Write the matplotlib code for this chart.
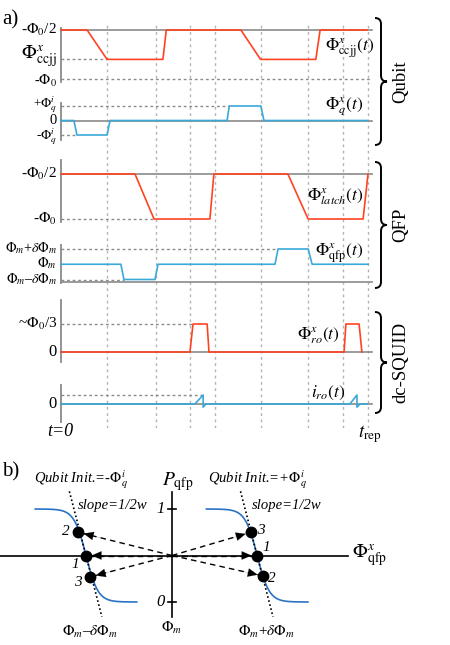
# Timing diagram (a) and QFP transfer curve (b)
import numpy as np
import matplotlib.pyplot as plt
from matplotlib.path import Path
import matplotlib.patches as mpatches

plt.rcParams['font.family'] = 'Liberation Serif'
plt.rcParams['mathtext.fontset'] = 'stix'

RED = '#ff4322'
BLUE = '#3aa8d8'
DBLUE = '#2b72c4'
GRAY = '#8a8a8a'
GRID = '#b4b4b4'

# --- data: time axis in units where t_rep = 100 ---
grid_t = [15, 31, 42, 50.2, 65, 80.5, 92, 100]

# Qubit: CCJJ flux (Phi0) and qubit flux (units of Phi_q^i)
ccjj_t = [0, 8.5, 15, 33.2, 34.3, 58.6, 65, 83, 84.4, 99.7]
ccjj_v = [-0.5, -0.5, -0.8, -0.8, -0.5, -0.5, -0.8, -0.8, -0.5, -0.5]
q_t = [0, 4.2, 5.2, 15, 16, 54.1, 54.8, 65.1, 66.1, 99.7]
q_v = [0, 0, -1, -1, 0, 0, 1, 1, 0, 0]

# QFP: latch flux (Phi0) and qfp flux (units of dPhi_m around Phi_m)
latch_t = [0, 24.1, 30.3, 48.5, 49.8, 73.9, 80.5, 98.4, 100]
latch_v = [-0.5, -0.5, -1, -1, -0.5, -0.5, -1, -1, -0.5]
qfp_t = [0, 19.5, 20.5, 30.6, 31.6, 69.7, 70.7, 80.5, 81.8, 100]
qfp_v = [0, 0, -1, -1, 0, 0, 1, 1, 0, 0]

# dc-SQUID: readout flux (Phi0) and readout current (arb.)
ro_t = [0, 42, 43, 47.6, 48.2, 92.2, 92.8, 97.1, 98]
ro_v = [0, 0, 1/3, 1/3, 0, 0, 1/3, 1/3, 0]
iro_t = [0, 43.6, 46.3, 46.3, 47.2, 94.1, 96.4, 96.4, 97.4, 99.7]
iro_v = [0, 0, 1, -0.35, 0, 0, 1, -0.35, 0, 0]

# panel b: QFP transfer curves and operating points
w = 0.14
curve_c = [-1.0, 0.99]
left_x = [-1.09, -1.0, -0.95]
left_p = [0.75, 0.5, 0.27]
left_n = ['2', '1', '3']
right_x = [0.92, 0.99, 1.06]
right_p = [0.75, 0.5, 0.28]
right_n = ['3', '1', '2']

W, H = 450, 645
fig = plt.figure(figsize=(4.5, 6.45), dpi=100)


def px_axes(x0, x1, y0, y1):
    ax = fig.add_axes([x0 / W, 1 - y1 / H, (x1 - x0) / W, (y1 - y0) / H])
    ax.set_axis_off()
    return ax


TMAX = 101.3


def trace_axes(top, bot, va, ya, vb, yb):
    ax = px_axes(61, 372, top, bot)
    k = (vb - va) / (yb - ya)
    ax.set_xlim(0, TMAX)
    ax.set_ylim(va + (bot - ya) * k, va + (top - ya) * k)
    ax.axvline(0, color=GRAY, lw=1.3, clip_on=False)
    return ax


def ref(ax, v):
    ax.plot([0, TMAX], [v, v], color=GRAY, lw=1.2, clip_on=False, zorder=1)


def dots(ax, v, t_end):
    ax.plot([0, t_end], [v, v], color=GRAY, lw=1, ls=(0, (2, 2)), clip_on=False, zorder=1)


def left(ax, v, s, size=11):
    ax.text(-1.3, v, s, ha='right', va='center', fontsize=size)


def right(ax, t, v, s):
    ax.text(t, v, s, ha='right', va='center', fontsize=12.5)


# vertical dotted gridlines
g = px_axes(61, 372, 23, 428)
g.set_xlim(0, TMAX)
g.set_ylim(0, 1)
for t in grid_t:
    g.axvline(t, color=GRID, lw=1, ls=(0, (2, 2.5)))

# Qubit traces
a1 = trace_axes(28, 82, -0.5, 30, -1, 79)
ref(a1, -0.5)
dots(a1, -0.8, 15)
dots(a1, -1, TMAX)
a1.plot(ccjj_t, ccjj_v, color=RED, lw=1.2, clip_on=False)
left(a1, -0.5, r'-$\Phi_{\mathit{0}}$/2')
left(a1, -0.78, r'$\Phi^x_{\rm ccjj}$', 14)
left(a1, -1.02, r'-$\Phi_{\mathit{0}}$', 10.5)
right(a1, 102.3, -0.68, r'$\Phi^x_{\rm ccjj}(t)$')

a2 = trace_axes(103, 140, 1, 106, -1, 135)
ref(a2, 0)
dots(a2, 1, 54.8)
dots(a2, -1, 5.2)
a2.plot(q_t, q_v, color=BLUE, lw=1.2, clip_on=False)
left(a2, 1.12, r'+$\Phi^i_q$', 9.5)
left(a2, 0, '0', 10.5)
left(a2, -1.12, r'-$\Phi^i_q$', 9.5)
right(a2, 98.4, 0.95, r'$\Phi^x_q(t)$')

# QFP traces
a3 = trace_axes(160, 222, -0.5, 174, -1, 219)
ref(a3, -0.5)
dots(a3, -1, 30.3)
a3.plot(latch_t, latch_v, color=RED, lw=1.2, clip_on=False)
left(a3, -0.5, r'-$\Phi_{\mathit{0}}$/2')
left(a3, -1, r'-$\Phi_{\mathit{0}}$')
right(a3, 98.4, -0.756, r'$\Phi^x_{latch}(t)$')

a4 = trace_axes(245, 283, 1, 249, -1, 279.5)
ref(a4, -1.15)
dots(a4, 1, 70.7)
dots(a4, -1, 20.5)
a4.plot(qfp_t, qfp_v, color=BLUE, lw=1.2, clip_on=False)
left(a4, 1.05, r'$\Phi_m$+$\delta\Phi_m$', 10)
left(a4, 0.05, r'$\Phi_m$', 10)
left(a4, -0.95, r'$\Phi_m$–$\delta\Phi_m$', 10)
right(a4, 98.4, 0.74, r'$\Phi^x_{\rm qfp}(t)$')

# dc-SQUID traces
a5 = trace_axes(300, 362, 0, 352, 1/3, 324)
ref(a5, 0)
dots(a5, 1/3, 43)
a5.plot(ro_t, ro_v, color=RED, lw=1.2, clip_on=False)
left(a5, 1/3, r'~$\Phi_{\mathit{0}}$/3')
left(a5, 0, '0', 12)
right(a5, 90.9, 0.2, r'$\Phi^x_{ro}(t)$')

a6 = trace_axes(385, 422, 0, 404, 1, 395)
ref(a6, 0)
dots(a6, 1, 46.3)
a6.plot(iro_t, iro_v, color=BLUE, lw=1.2, clip_on=False)
left(a6, 0, '0', 12)
right(a6, 92.5, 1.2, r'$i_{ro}(t)$')

# overlay for braces and panel annotations (pixel layout)
ov = px_axes(0, W, 0, H)
ov.set_xlim(0, W)
ov.set_ylim(H, 0)


def brace(x, y0, y1, bw=12):
    ym = (y0 + y1) / 2
    h = bw / 2
    verts = [(x, y0), (x + h, y0), (x + h, y0 + h), (x + h, ym - h), (x + h, ym), (x + bw, ym),
             (x + h, ym), (x + h, ym + h), (x + h, y1 - h), (x + h, y1), (x, y1)]
    codes = [Path.MOVETO, Path.CURVE3, Path.CURVE3, Path.LINETO, Path.CURVE3, Path.CURVE3,
             Path.CURVE3, Path.CURVE3, Path.LINETO, Path.CURVE3, Path.CURVE3]
    ov.add_patch(mpatches.PathPatch(Path(verts, codes), fill=False, lw=1.4, color='k'))


for (y0, y1, name) in [(18, 145, 'Qubit'), (162, 288, 'QFP'), (312, 413, 'dc-SQUID')]:
    brace(375, y0, y1)
    ov.text(401, (y0 + y1) / 2, name, rotation=90, ha='center', va='center', fontsize=13.5)

ov.text(2, 20, 'a)', fontsize=15, va='center')
ov.text(2, 472, 'b)', fontsize=15, va='center')
ov.text(60, 432, 't=0', fontsize=13, style='italic', ha='center', va='center')
ov.text(370, 434, r'$t_{\rm rep}$', fontsize=13.5, ha='center', va='center')

# panel b
b = px_axes(0, W, 455, H)
b.set_xlim(-2.0, (450 - 172) / 86)
b.set_ylim((602 - 645) / 93, (602 - 455) / 93)

b.plot([-2.0, 2.05], [0.5, 0.5], color='k', lw=1.2)
b.plot([0, 0], [-0.16, 1.18], color='k', lw=1.2)
for p in [0, 1]:
    b.plot([-0.05, 0.05], [p, p], color='k', lw=1.2)
    b.text(-0.08, p, str(p), ha='right', va='center', fontsize=12, style='italic')

for c in curve_c:
    x = np.linspace(c - 0.59, c + 0.59, 200)
    b.plot(x, 0.5 - 0.5 * np.tanh((x - c) / w), color=DBLUE, lw=1.2)
    yy = np.array([1.19, -0.16])
    b.plot(c - (yy - 0.5) * 2 * w, yy, color='k', lw=1.2, ls=(0, (1, 1.5)))

for xs, ps in [(left_x, left_p), (right_x, right_p)]:
    for x, p in zip(xs, ps):
        b.plot([0, x], [0.5, p], color='k', lw=1, ls=(0, (4, 3)))
        b.annotate('', xy=(x, p), xytext=(0.75 * x, 0.5 + 0.75 * (p - 0.5)),
                   arrowprops=dict(arrowstyle='-|>,head_length=0.7,head_width=0.3',
                                   color='k', lw=0.1, shrinkA=0, shrinkB=4))
    b.plot(xs, ps, 'o', color='k', ms=7.5, zorder=5)

for (x, p, s) in [(-1.23, 0.755, left_n[0]), (-1.13, 0.40, left_n[1]), (-1.09, 0.215, left_n[2]),
                  (1.03, 0.765, right_n[0]), (1.10, 0.59, right_n[1]), (1.165, 0.258, right_n[2])]:
    b.text(x, p, s, ha='center', va='center', fontsize=11, style='italic')

b.text(-1.6, (602 - 480) / 93, r'Qubit Init.=-$\Phi^i_q$', fontsize=10.5, style='italic', va='center')
b.text(-1.09, (602 - 505) / 93, 'slope=1/2w', fontsize=10.5, style='italic', va='center')
b.text(0.42, (602 - 480) / 93, r'Qubit Init.=+$\Phi^i_q$', fontsize=10.5, style='italic', va='center')
b.text(0.93, (602 - 505) / 93, 'slope=1/2w', fontsize=10.5, style='italic', va='center')
b.text(0.07, (602 - 482) / 93, r'$P_{\rm qfp}$', fontsize=14, ha='center', va='center')
b.text(2.09, 0.5, r'$\Phi^x_{\rm qfp}$', fontsize=14, ha='left', va='center')
b.text(-0.95, (602 - 632) / 93, r'$\Phi_m$–$\delta\Phi_m$', fontsize=11, ha='center', va='center')
b.text(0, (602 - 628) / 93, r'$\Phi_m$', fontsize=11, ha='center', va='center')
b.text(1.1, (602 - 632) / 93, r'$\Phi_m$+$\delta\Phi_m$', fontsize=11, ha='center', va='center')

plt.savefig('out.png', dpi=100)
